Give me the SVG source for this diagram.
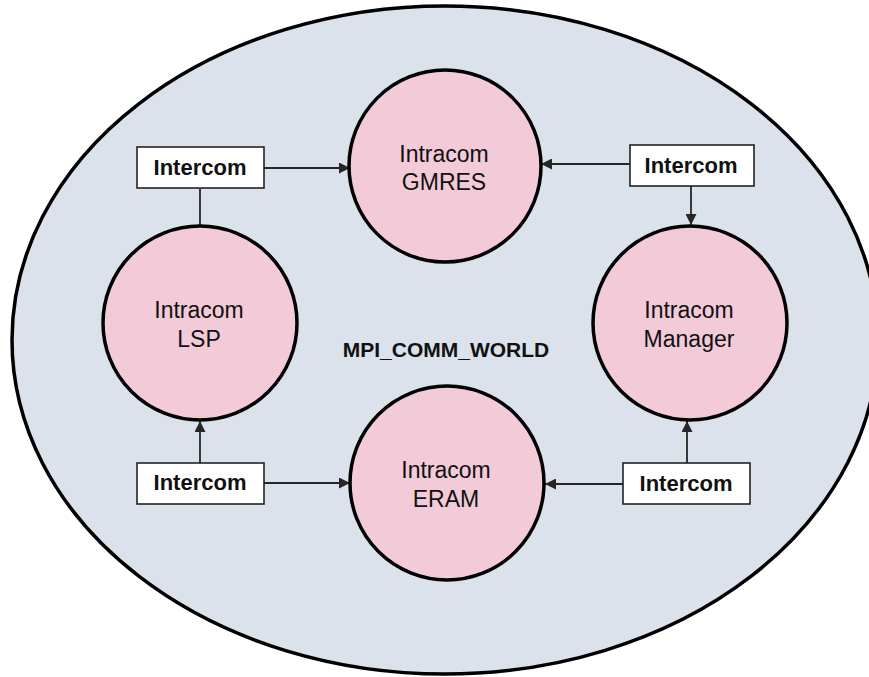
<svg xmlns="http://www.w3.org/2000/svg" width="869" height="677" viewBox="0 0 869 677">
<style>
.world{fill:#dbe2ec;stroke:#000;stroke-width:3.5}
.comm{fill:#f2cad8;stroke:#000;stroke-width:3.5}
.box{fill:#fff;stroke:#222;stroke-width:1.6}
.lbl{font-family:"Liberation Sans",Arial,sans-serif;font-size:23px;fill:#111;text-anchor:middle}
.blbl{font-family:"Liberation Sans",Arial,sans-serif;font-size:21px;font-weight:bold;fill:#111;text-anchor:middle}
.ilbl{font-family:"Liberation Sans",Arial,sans-serif;font-size:22px;font-weight:bold;fill:#111;text-anchor:middle}
.conn{stroke:#262626;stroke-width:1.8;fill:none}
</style>
<defs>
<marker id="ah" viewBox="0 0 12 12" refX="12" refY="6" markerWidth="12" markerHeight="11" markerUnits="userSpaceOnUse" orient="auto">
<path d="M0,0 L12,6 L0,12 z" fill="#262626"/>
</marker>
</defs>
<rect width="869" height="677" fill="#fff"/>
<g id="world">
<ellipse class="world" cx="445" cy="340" rx="433" ry="334"/>
<text class="blbl" x="446" y="357">MPI_COMM_WORLD</text>
</g>
<g id="connectors">
<line class="conn" x1="264" y1="168" x2="350" y2="168" marker-end="url(#ah)"/>
<line class="conn" x1="200" y1="189" x2="200" y2="226"/>
<line class="conn" x1="630" y1="164" x2="541" y2="164" marker-end="url(#ah)"/>
<line class="conn" x1="691" y1="186" x2="691" y2="225" marker-end="url(#ah)"/>
<line class="conn" x1="200" y1="463" x2="200" y2="421" marker-end="url(#ah)"/>
<line class="conn" x1="264" y1="483" x2="350" y2="483" marker-end="url(#ah)"/>
<line class="conn" x1="687" y1="463" x2="687" y2="421" marker-end="url(#ah)"/>
<line class="conn" x1="623" y1="484" x2="545" y2="484" marker-end="url(#ah)"/>
</g>
<g id="gmres">
<circle class="comm" cx="445" cy="166" r="96"/>
<text class="lbl" x="444" y="162">Intracom</text>
<text class="lbl" x="444" y="190">GMRES</text>
</g>
<g id="lsp">
<circle class="comm" cx="200" cy="323" r="97"/>
<text class="lbl" x="199" y="318">Intracom</text>
<text class="lbl" x="199" y="347">LSP</text>
</g>
<g id="manager">
<circle class="comm" cx="690" cy="323" r="97"/>
<text class="lbl" x="689" y="318">Intracom</text>
<text class="lbl" x="689" y="347">Manager</text>
</g>
<g id="eram">
<circle class="comm" cx="447" cy="483" r="97"/>
<text class="lbl" x="446" y="478">Intracom</text>
<text class="lbl" x="446" y="507">ERAM</text>
</g>
<g id="intercom-tl">
<rect class="box" x="137" y="147" width="127" height="41"/>
<text class="ilbl" x="200" y="175">Intercom</text>
</g>
<g id="intercom-tr">
<rect class="box" x="630" y="145" width="124" height="41"/>
<text class="ilbl" x="691" y="173">Intercom</text>
</g>
<g id="intercom-bl">
<rect class="box" x="137" y="463" width="127" height="41"/>
<text class="ilbl" x="200" y="490">Intercom</text>
</g>
<g id="intercom-br">
<rect class="box" x="623" y="463" width="127" height="41"/>
<text class="ilbl" x="686" y="491">Intercom</text>
</g>
</svg>
